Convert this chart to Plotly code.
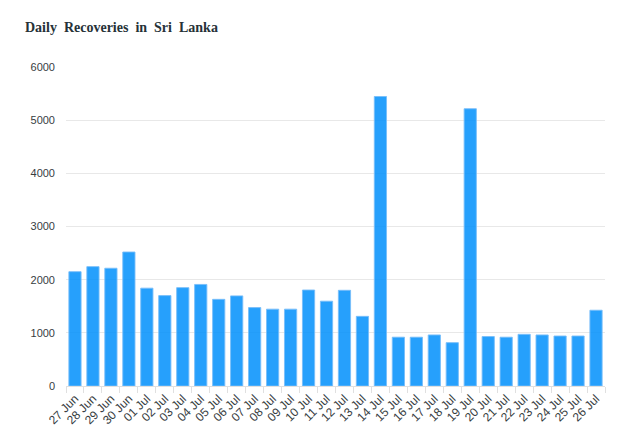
import plotly.graph_objects as go

# data
dates = ['27 Jun', '28 Jun', '29 Jun', '30 Jun', '01 Jul', '02 Jul', '03 Jul', '04 Jul',
         '05 Jul', '06 Jul', '07 Jul', '08 Jul', '09 Jul', '10 Jul', '11 Jul', '12 Jul',
         '13 Jul', '14 Jul', '15 Jul', '16 Jul', '17 Jul', '18 Jul', '19 Jul', '20 Jul',
         '21 Jul', '22 Jul', '23 Jul', '24 Jul', '25 Jul', '26 Jul']
recoveries = [2150, 2245, 2215, 2520, 1840, 1700, 1850, 1910,
              1630, 1695, 1475, 1445, 1445, 1805, 1595, 1800,
              1310, 5445, 918, 918, 960, 815, 5215, 930,
              918, 972, 960, 940, 940, 1425]
y_ticks = [0, 1000, 2000, 3000, 4000, 5000, 6000]

fig = go.Figure()

fig.add_trace(go.Bar(
    x=dates, y=recoveries,
    marker=dict(color='rgba(0,143,251,0.85)',
                line=dict(color='rgba(120,190,250,0.9)', width=1)),
    hoverinfo='x+y'
))

# page body has an 8px margin, so everything is shifted up/left by 8
fig.update_layout(
    width=632, height=445,
    margin=dict(l=58, r=35, t=59, b=67),
    paper_bgcolor='white', plot_bgcolor='white',
    bargap=0.32,
    showlegend=False,
    title=dict(text='<b>Daily\u00a0 Recoveries\u00a0 in\u00a0 Sri\u00a0 Lanka</b>',
               font=dict(family='Liberation Serif', size=14, color='#263238'),
               x=17 / 632, xanchor='left', xref='container',
               y=1 - 19 / 445, yanchor='middle', yref='container'),
    font=dict(family='Liberation Sans', size=11, color='#373d3f'),
)

fig.update_xaxes(
    type='category',
    tickangle=-45,
    ticks='outside', tickson='boundaries', ticklen=6, tickcolor='#e0e0e0',
    showline=True, linecolor='#e0e0e0', linewidth=1,
    showgrid=False,
    tickfont=dict(size=12, color='#373d3f'),
)

fig.update_yaxes(
    range=[0, 6000], tickvals=y_ticks,
    showgrid=True, gridcolor='#e8e8e8', gridwidth=1,
    zeroline=False, ticks='', ticklabelstandoff=10,
    tickfont=dict(size=11, color='#373d3f'),
)

fig.write_html('out.html')
